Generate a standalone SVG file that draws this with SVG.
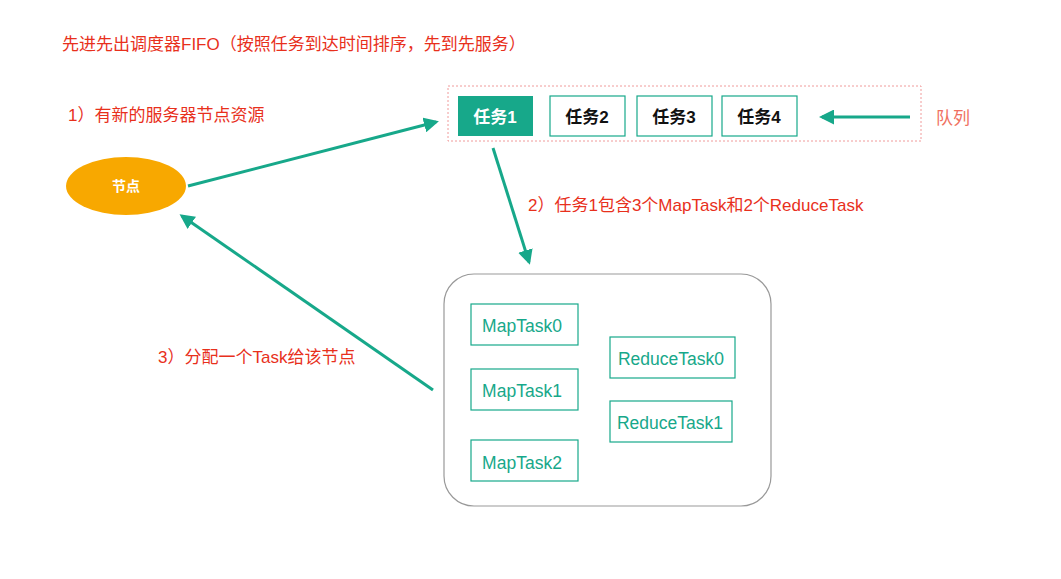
<svg xmlns="http://www.w3.org/2000/svg" width="1061" height="579" viewBox="0 0 1061 579">
<style>
.red{font-family:"Liberation Sans","Noto Sans CJK SC",sans-serif;font-size:17px;fill:#e8301c}
.t{font-family:"Liberation Sans","Noto Sans CJK SC",sans-serif;font-size:17px;font-weight:bold;fill:#111;text-anchor:middle}
.g{font-family:"Liberation Sans",sans-serif;font-size:17.5px;fill:#17a88a;text-anchor:middle}
.box{fill:#fff;stroke:#17a88a;stroke-width:1.2}
.ln{stroke:#17a88a;stroke-width:3;fill:none;marker-end:url(#a)}
</style>
<defs><marker id="a" markerWidth="5" markerHeight="5" refX="4" refY="2.5" orient="auto"><path d="M0,0L5,2.5L0,5z" fill="#17a88a"/></marker></defs>
<rect width="1061" height="579" fill="#fff"/>
<text class="red" x="62" y="50">先进先出调度器FIFO（按照任务到达时间排序，先到先服务）</text>
<text class="red" x="68" y="121">1）有新的服务器节点资源</text>
<text class="red" x="528" y="211">2）任务1包含3个MapTask和2个ReduceTask</text>
<text class="red" x="158" y="363">3）分配一个Task给该节点</text>
<text class="red" x="936" y="124" style="fill:#f07060">队列</text>
<g id="queue"><rect x="448" y="86" width="473" height="55" fill="none" stroke="#f09a9a" stroke-dasharray="2,2"/></g>
<g id="node"><ellipse cx="126" cy="186" rx="60" ry="29" fill="#f8a800"/><text x="126" y="191" class="t" style="fill:#fff;font-size:14px">节点</text></g>
<g id="t1"><rect x="458" y="96" width="75" height="40" fill="#17a88a"/><text class="t" x="495" y="123" style="fill:#fff">任务1</text></g>
<g id="t2"><rect class="box" x="550" y="96" width="75" height="40"/><text class="t" x="587" y="123">任务2</text></g>
<g id="t3"><rect class="box" x="637" y="96" width="75" height="40"/><text class="t" x="674" y="123">任务3</text></g>
<g id="t4"><rect class="box" x="722" y="96" width="75" height="40"/><text class="t" x="759" y="123">任务4</text></g>
<g id="job"><rect x="444" y="274" width="327" height="232" rx="30" fill="#fff" stroke="#999" stroke-width="1.2"/></g>
<g id="m0"><rect class="box" x="471" y="304" width="107" height="41"/><text class="g" x="522" y="332">MapTask0</text></g>
<g id="m1"><rect class="box" x="471" y="369" width="107" height="41"/><text class="g" x="522" y="397">MapTask1</text></g>
<g id="m2"><rect class="box" x="471" y="440" width="107" height="41"/><text class="g" x="522" y="469">MapTask2</text></g>
<g id="r0"><rect class="box" x="610" y="337" width="125" height="41"/><text class="g" x="671" y="365">ReduceTask0</text></g>
<g id="r1"><rect class="box" x="610" y="401" width="122" height="41"/><text class="g" x="670" y="429">ReduceTask1</text></g>
<g id="connectors">
<path class="ln" d="M188,186L436,122"/>
<path class="ln" d="M493,148L529,262"/>
<path class="ln" d="M433,390L182,216"/>
<path class="ln" d="M910,117L822,117"/>
</g>
</svg>
